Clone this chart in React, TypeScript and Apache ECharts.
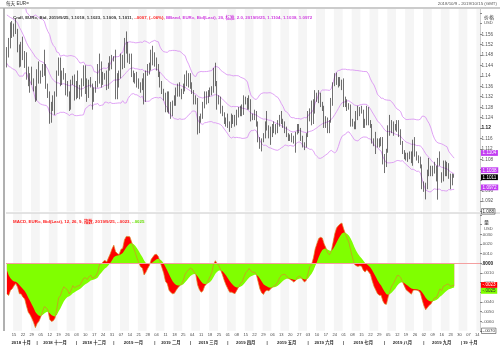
import React, { useEffect, useRef } from 'react';
import * as echarts from 'echarts';

// ---- closes before the visible range (warm-up for BBand / MACD), 2018-08-01 .. 2018-10-08
const preCloses = [
  1.1660, 1.1585, 1.1565, 1.1555, 1.1600, 1.1610, 1.1525, 1.1410, 1.1405, 1.1345, 1.1345, 1.1375,
  1.1435, 1.1475, 1.1570, 1.1595, 1.1540, 1.1620, 1.1680, 1.1700, 1.1705, 1.1670, 1.1600,
  1.1620, 1.1580, 1.1630, 1.1625, 1.1550, 1.1595, 1.1600, 1.1625, 1.1690, 1.1625, 1.1685,
  1.1665, 1.1670, 1.1775, 1.1745, 1.1750, 1.1770, 1.1740, 1.1640, 1.1605,
  1.1575, 1.1545, 1.1540, 1.1515, 1.1525, 1.1490,
];

// ---- daily candles [open, close, low, high]
const oct2018 = [[1.149,1.149,1.1432,1.151],[1.149,1.152,1.147,1.1545],[1.152,1.1595,1.1505,1.1605],[1.1595,1.156,1.1545,1.161],[1.156,1.158,1.155,1.16],[1.158,1.1575,1.156,1.1621],[1.1575,1.15,1.149,1.158],[1.15,1.145,1.1432,1.152],[1.145,1.151,1.1435,1.153],[1.151,1.1465,1.146,1.155],[1.1465,1.147,1.143,1.1495],[1.147,1.139,1.1385,1.149],[1.139,1.1375,1.136,1.1435],[1.1375,1.14,1.1335,1.141],[1.14,1.137,1.1365,1.1435],[1.137,1.1345,1.134,1.139],[1.1345,1.131,1.13,1.136]];
const nov2018 = [[1.131,1.141,1.1305,1.1425],[1.141,1.1385,1.137,1.1455],[1.1385,1.141,1.137,1.142],[1.141,1.143,1.1395,1.1445],[1.143,1.143,1.14,1.15],[1.143,1.136,1.135,1.1445],[1.136,1.1335,1.1315,1.137],[1.1335,1.123,1.1216,1.134],[1.123,1.129,1.122,1.13],[1.129,1.131,1.1265,1.1325],[1.131,1.133,1.125,1.134],[1.133,1.1415,1.132,1.142],[1.1415,1.1455,1.14,1.147],[1.1455,1.137,1.136,1.147],[1.137,1.141,1.1365,1.142],[1.141,1.14,1.1385,1.143],[1.14,1.1335,1.1325,1.141],[1.1335,1.1335,1.132,1.138],[1.1335,1.129,1.1265,1.134],[1.129,1.137,1.127,1.1385],[1.137,1.1395,1.1365,1.14],[1.1395,1.1315,1.1305,1.1405]];
const dec2018 = [[1.1315,1.135,1.131,1.138],[1.135,1.134,1.1315,1.142],[1.134,1.134,1.131,1.1365],[1.134,1.1375,1.132,1.139],[1.1375,1.138,1.136,1.144],[1.138,1.1355,1.133,1.144],[1.1355,1.132,1.13,1.139],[1.132,1.137,1.1315,1.1385],[1.137,1.1365,1.1355,1.1395],[1.1365,1.1305,1.127,1.137],[1.1305,1.1345,1.13,1.1355],[1.1345,1.136,1.1335,1.138],[1.136,1.138,1.1355,1.1445],[1.138,1.145,1.137,1.1485],[1.145,1.137,1.1355,1.1455],[1.137,1.14,1.1365,1.1415],[1.14,1.1395,1.1385,1.141],[1.1395,1.1355,1.1345,1.142],[1.1355,1.143,1.135,1.145],[1.143,1.144,1.142,1.1475],[1.144,1.1465,1.1425,1.148]];
const jan2019 = [[1.1465,1.1465,1.1455,1.1475],[1.1465,1.1345,1.131,1.15],[1.1345,1.139,1.131,1.141],[1.139,1.1395,1.1355,1.142],[1.1395,1.1475,1.139,1.1485],[1.1475,1.144,1.1425,1.148],[1.144,1.154,1.143,1.1545],[1.154,1.15,1.1485,1.157],[1.15,1.147,1.145,1.153],[1.147,1.147,1.1445,1.1485],[1.147,1.141,1.1395,1.1485],[1.141,1.1395,1.1375,1.142],[1.1395,1.139,1.137,1.141],[1.139,1.1365,1.1355,1.1415],[1.1365,1.1365,1.135,1.139],[1.1365,1.136,1.1335,1.1375],[1.136,1.1385,1.1345,1.139],[1.1385,1.1305,1.129,1.141],[1.1305,1.141,1.13,1.142],[1.141,1.143,1.14,1.1445],[1.143,1.143,1.1405,1.145],[1.143,1.148,1.142,1.15],[1.148,1.145,1.144,1.1515]];
const feb2019 = [[1.145,1.1455,1.1435,1.149],[1.1455,1.1435,1.142,1.147],[1.1435,1.1405,1.1395,1.1445],[1.1405,1.136,1.1355,1.1415],[1.136,1.134,1.133,1.138],[1.134,1.1325,1.1305,1.135],[1.1325,1.1275,1.126,1.1335],[1.1275,1.1325,1.126,1.134],[1.1325,1.126,1.1255,1.134],[1.126,1.1295,1.1235,1.13],[1.1295,1.1295,1.1245,1.1305],[1.1295,1.131,1.1285,1.1325],[1.131,1.134,1.1285,1.1355],[1.134,1.134,1.132,1.137],[1.134,1.1335,1.132,1.1375],[1.1335,1.1335,1.131,1.135],[1.1335,1.136,1.133,1.137],[1.136,1.14,1.134,1.1405],[1.14,1.137,1.136,1.142],[1.137,1.137,1.1355,1.141]];
const mar2019 = [[1.137,1.1365,1.135,1.141],[1.1365,1.134,1.133,1.1375],[1.134,1.131,1.129,1.1345],[1.131,1.1305,1.129,1.1325],[1.1305,1.1195,1.1175,1.1315],[1.1195,1.1235,1.118,1.1245],[1.1235,1.1245,1.122,1.1255],[1.1245,1.1285,1.1235,1.13],[1.1285,1.133,1.1275,1.134],[1.133,1.1305,1.129,1.134],[1.1305,1.1325,1.1295,1.1345],[1.1325,1.134,1.132,1.1355],[1.134,1.135,1.1325,1.136],[1.135,1.1415,1.1335,1.143],[1.1415,1.1375,1.136,1.145],[1.1375,1.13,1.127,1.138],[1.13,1.131,1.129,1.1325],[1.131,1.1265,1.1255,1.132],[1.1265,1.125,1.1245,1.1285],[1.125,1.1225,1.1215,1.126],[1.1225,1.122,1.1205,1.124]];
const apr2019 = [[1.122,1.1215,1.12,1.1255],[1.1215,1.1205,1.1185,1.1225],[1.1205,1.1235,1.12,1.1255],[1.1235,1.122,1.1215,1.125],[1.122,1.1215,1.1205,1.125],[1.1215,1.126,1.121,1.127],[1.126,1.1265,1.124,1.128],[1.1265,1.1275,1.1245,1.1285],[1.1275,1.1255,1.1245,1.129],[1.1255,1.13,1.125,1.1325],[1.13,1.1305,1.129,1.132],[1.1305,1.1285,1.127,1.1315],[1.1285,1.1295,1.127,1.1325],[1.1295,1.1235,1.1225,1.131],[1.1235,1.1245,1.123,1.1255],[1.1245,1.126,1.123,1.127],[1.126,1.122,1.1205,1.1265],[1.122,1.1155,1.1145,1.1225],[1.1155,1.113,1.112,1.1165],[1.113,1.115,1.111,1.116],[1.115,1.1165,1.1145,1.118],[1.1165,1.1215,1.116,1.1225]];
const may2019 = [[1.1215,1.1195,1.119,1.1265],[1.1195,1.117,1.116,1.121],[1.117,1.12,1.1135,1.1205],[1.12,1.1195,1.1165,1.1215],[1.1195,1.1195,1.118,1.1225],[1.1195,1.119,1.1175,1.1215],[1.119,1.1215,1.118,1.123],[1.1215,1.1235,1.1205,1.125],[1.1235,1.1225,1.1215,1.1265],[1.1225,1.1205,1.12,1.1235],[1.1205,1.12,1.118,1.1225],[1.12,1.1175,1.1165,1.1205],[1.1175,1.116,1.115,1.118],[1.116,1.1165,1.115,1.1175],[1.1165,1.116,1.1145,1.118],[1.116,1.115,1.114,1.117],[1.115,1.118,1.1105,1.1185],[1.118,1.1205,1.1175,1.1215],[1.1205,1.119,1.118,1.1215],[1.119,1.116,1.115,1.12],[1.116,1.113,1.1125,1.117],[1.113,1.113,1.1115,1.1145],[1.113,1.117,1.1125,1.118]];
const jun2019 = [[1.117,1.124,1.1165,1.1265],[1.124,1.1255,1.1225,1.1275],[1.1255,1.122,1.121,1.1305],[1.122,1.1275,1.1215,1.131],[1.1275,1.133,1.1255,1.1345],[1.133,1.131,1.13,1.1335],[1.131,1.1325,1.1295,1.1345],[1.1325,1.129,1.128,1.1335],[1.129,1.1275,1.1265,1.13],[1.1275,1.121,1.12,1.1285],[1.121,1.122,1.12,1.1245],[1.122,1.1195,1.118,1.124],[1.1195,1.1225,1.118,1.123],[1.1225,1.129,1.122,1.1315],[1.129,1.137,1.1285,1.1375],[1.137,1.14,1.136,1.141],[1.14,1.139,1.1365,1.1412],[1.139,1.1365,1.1355,1.1395],[1.1365,1.137,1.136,1.1395],[1.137,1.137,1.1345,1.1385]];
const jul2019 = [[1.137,1.129,1.128,1.139],[1.129,1.129,1.128,1.132],[1.129,1.1285,1.1265,1.131],[1.1285,1.128,1.127,1.1295],[1.128,1.1225,1.1205,1.129],[1.1225,1.1215,1.1205,1.1235],[1.1215,1.1205,1.1195,1.1225],[1.1205,1.125,1.1195,1.1265],[1.125,1.1255,1.123,1.1285],[1.1255,1.127,1.1245,1.128],[1.127,1.126,1.1255,1.1285],[1.126,1.121,1.12,1.127],[1.121,1.1225,1.12,1.1235],[1.1225,1.1275,1.121,1.1285],[1.1275,1.122,1.121,1.128],[1.122,1.121,1.12,1.123],[1.121,1.115,1.114,1.1215],[1.115,1.114,1.113,1.116],[1.114,1.1145,1.11,1.1185],[1.1145,1.113,1.1125,1.116],[1.113,1.1145,1.1125,1.116],[1.1145,1.1155,1.113,1.1165],[1.1155,1.1075,1.106,1.1165]];
const aug2019 = [[1.1075,1.109,1.1027,1.11],[1.109,1.111,1.105,1.112],[1.111,1.1205,1.1105,1.121],[1.1205,1.12,1.117,1.125],[1.12,1.12,1.118,1.123],[1.12,1.118,1.117,1.1225],[1.118,1.12,1.119,1.1215],[1.12,1.121,1.1185,1.123],[1.121,1.117,1.1165,1.123],[1.117,1.114,1.1135,1.1195],[1.114,1.1105,1.11,1.115],[1.1105,1.109,1.108,1.1115],[1.109,1.108,1.1075,1.1105],[1.108,1.1095,1.107,1.1105],[1.1095,1.1085,1.108,1.111],[1.1085,1.108,1.1065,1.111],[1.108,1.114,1.1055,1.1155],[1.114,1.11,1.109,1.1165],[1.11,1.109,1.1075,1.111],[1.109,1.108,1.1065,1.1095],[1.108,1.1055,1.1045,1.109],[1.1055,1.0985,1.0965,1.106]];
const sep2019 = [[1.0985,1.097,1.0955,1.0995],[1.097,1.097,1.0926,1.099],[1.097,1.1035,1.0965,1.104],[1.1035,1.1035,1.1015,1.1085],[1.1035,1.1025,1.1015,1.1055],[1.1025,1.1045,1.1015,1.1055],[1.1045,1.1045,1.1025,1.107],[1.1045,1.101,1.0995,1.1055],[1.101,1.106,1.0925,1.1085],[1.106,1.1075,1.1055,1.111],[1.1075,1.1,1.099,1.103],[1.1,1.107,1.0995,1.1075],[1.107,1.103,1.1015,1.1075],[1.103,1.104,1.1015,1.107],[1.104,1.102,1.1005,1.1065],[1.102,1.099,1.0965,1.1025],[1.099,1.1018,1.098,1.1025],[1.1018,1.1011,1.1009,1.1023]];

// ---- last values shown in the legends / axis tags
const lastClose = 1.1011;
const bbLast = [1.1104, 1.1038, 1.0972];
const macdLast = -0.0023;
const signalLast = -0.0025;

// ---- axis texts
const monthLabels = [
  '2018 十月', '2018 十一月', '2018 十二月', '2019 一月', '2019 二月', '2019 三月', '2019 四月',
  '2019 五月', '2019 六月', '2019 七月', '2019 八月', '2019 九月', '19 十月',
];
// axis ticks hidden under the value tags
const priceTicksUnderTags = [1.104, 1.1];
const macdTicksUnderTags = [-0.003];
const rangeStart = [2018, 9, 9];
const rangeEnd = [2019, 9, 15];

const FONT = "'Liberation Sans', 'Noto Sans CJK SC', sans-serif";

const fmtMacd = (v: number) => {
  const a = Math.abs(v).toFixed(4).slice(1);
  return (v < -1e-9 ? '-' : '') + a;
};
const near = (list: number[], v: number) => list.some((x) => Math.abs(x - v) < 1e-7);

function buildOption() {
  const candles = [
    ...oct2018, ...nov2018, ...dec2018, ...jan2019, ...feb2019, ...mar2019,
    ...apr2019, ...may2019, ...jun2019, ...jul2019, ...aug2019, ...sep2019,
  ];
  const days: Date[] = [];
  for (let t = Date.UTC(rangeStart[0], rangeStart[1], rangeStart[2]); t <= Date.UTC(rangeEnd[0], rangeEnd[1], rangeEnd[2]); t += 86400000) {
    const d = new Date(t);
    const wd = d.getUTCDay();
    if (wd !== 0 && wd !== 6) days.push(d);
  }
  const cats = days.map((d) => d.toISOString().slice(0, 10));
  const isMonday = days.map((d) => d.getUTCDay() === 1);
  const monthStart: number[] = [];
  days.forEach((d, i) => {
    if (i === 0 || d.getUTCMonth() !== days[i - 1].getUTCMonth()) monthStart.push(i);
  });
  const monthMid: Record<number, string> = {};
  const monthSep: Record<number, boolean> = {};
  monthStart.forEach((s, k) => {
    const e = k + 1 < monthStart.length ? monthStart[k + 1] - 1 : days.length - 1;
    monthMid[Math.floor((s + e) / 2)] = monthLabels[k];
    if (k > 0) monthSep[s] = true;
  });

  // indicators (BBand 20, 2.0; MACD 12, 26, 9 exponential)
  const closes = [...preCloses, ...candles.map((c) => c[1])];
  const off = preCloses.length;
  const ema = (arr: number[], n: number) => {
    const k = 2 / (n + 1);
    const out: number[] = [];
    let e = arr[0];
    arr.forEach((v, i) => {
      e = i === 0 ? v : v * k + e * (1 - k);
      out.push(e);
    });
    return out;
  };
  const e12 = ema(closes, 12);
  const e26 = ema(closes, 26);
  const macdAll = e12.map((v, i) => v - e26[i]);
  const sigAll = ema(macdAll, 9);
  const macd = macdAll.slice(off);
  const sig = sigAll.slice(off);
  const up: number[] = [], mid: number[] = [], lo: number[] = [];
  candles.forEach((_, i) => {
    const w = closes.slice(off + i - 19, off + i + 1);
    const m = w.reduce((a, b) => a + b, 0) / w.length;
    const sd = Math.sqrt(w.reduce((a, b) => a + (b - m) * (b - m), 0) / w.length);
    up.push(m + 2 * sd);
    mid.push(m);
    lo.push(m - 2 * sd);
  });

  const stripe = {
    show: true,
    interval: (i: number) => isMonday[i],
    areaStyle: { color: ['#ffffff', '#f5f5f5'] },
  };
  const bbLine = (data: number[]) => ({
    type: 'line', xAxisIndex: 0, yAxisIndex: 0, data, symbol: 'none', z: 3,
    lineStyle: { color: '#d88cf2', width: 0.8 },
  });

  return {
    animation: false,
    textStyle: { fontFamily: FONT },
    title: [
      {
        left: 8, top: 10,
        text:
          '{a|Cndl, EUR=, Bid, 2019/9/25, 1.1018, 1.1023, 1.1009, 1.1011, }{r|-.0007, (-.06%), }' +
          '{m|BBand, EUR=, Bid(Last), 20, 标准, 2.0, 2019/9/25, 1.1104, 1.1038, 1.0972}',
        textStyle: {
          rich: {
            a: { color: '#333', fontSize: 4.4, fontFamily: FONT },
            r: { color: '#ff2020', fontSize: 4.4, fontFamily: FONT },
            m: { color: '#d040e0', fontSize: 4.4, fontFamily: FONT },
          },
        },
      },
      {
        left: 8, top: 214.5,
        text: '{r|MACD, EUR=, Bid(Last), 12, 26, 9, 指数, 2019/9/25, -.0023, }{g|-.0025}',
        textStyle: {
          rich: {
            r: { color: '#ff2020', fontSize: 4.4, fontFamily: FONT },
            g: { color: '#66dd00', fontSize: 4.4, fontFamily: FONT },
          },
        },
      },
    ],
    grid: [
      { left: 6, right: 20, top: 9, height: 202.4 },
      { left: 6, right: 20, top: 213.5, height: 117.3 },
    ],
    xAxis: [
      {
        type: 'category', gridIndex: 0, data: cats,
        axisLine: { show: false }, axisTick: { show: false }, axisLabel: { show: false },
        splitArea: stripe,
      },
      {
        type: 'category', gridIndex: 1, data: cats,
        axisLine: { show: false }, axisTick: { show: false },
        axisLabel: {
          interval: (i: number) => isMonday[i],
          formatter: (v: string) => v.slice(8, 10),
          fontSize: 4, color: '#444', margin: 2, fontFamily: FONT,
        },
        splitArea: stripe,
      },
      {
        type: 'category', gridIndex: 1, data: cats, position: 'bottom', offset: 8,
        axisLine: { show: false }, axisTick: { show: false },
        axisLabel: {
          interval: (i: number) => monthMid[i] !== undefined || monthSep[i] === true,
          formatter: (_v: string, i: number) => (monthMid[i] !== undefined ? monthMid[i] : '|'),
          fontSize: 4.3, fontWeight: 'bold', color: '#222', margin: 2, fontFamily: FONT,
        },
      },
    ],
    yAxis: [
      {
        type: 'value', gridIndex: 0, position: 'right', min: 1.088, max: 1.1656, interval: 0.004,
        splitLine: { show: false },
        axisLine: { show: true, lineStyle: { color: '#cfcfcf' } },
        axisTick: { show: true, length: 2, lineStyle: { color: '#888' } },
        axisLabel: {
          showMaxLabel: false, margin: 1.5, fontSize: 4.6, color: '#555', fontFamily: FONT,
          formatter: (v: number) => {
            if (v > 1.158 || near(priceTicksUnderTags, v)) return '';
            const s = String(Number(v.toFixed(3)));
            if (Math.abs(v - 1.12) < 1e-6) return '{b|' + s + '}';
            if (Math.abs(v - 1.088) < 1e-6) return '{box|' + s + '}';
            return s;
          },
          rich: {
            b: { fontWeight: 'bold', color: '#111', fontSize: 4.8, fontFamily: FONT },
            box: { borderColor: '#444', borderWidth: 0.6, padding: [0.5, 1], color: '#333', fontSize: 4.6, fontFamily: FONT },
          },
        },
      },
      {
        type: 'value', gridIndex: 1, position: 'right', min: -0.007, max: 0.00516, interval: 0.001,
        splitLine: { show: false },
        axisLine: { show: true, lineStyle: { color: '#cfcfcf' } },
        axisTick: { show: true, length: 2, lineStyle: { color: '#888' } },
        axisLabel: {
          showMaxLabel: false, margin: 1.5, fontSize: 4.4, color: '#555', fontFamily: FONT,
          formatter: (v: number) => {
            if (v > 0.0035 || near(macdTicksUnderTags, v)) return '';
            if (Math.abs(v) < 1e-9) return '{b|.0000}';
            if (Math.abs(v + 0.007) < 1e-9) return '{box|' + fmtMacd(v) + '}';
            return fmtMacd(v);
          },
          rich: {
            b: { fontWeight: 'bold', color: '#111', fontSize: 4.6, fontFamily: FONT },
            box: { borderColor: '#444', borderWidth: 0.6, padding: [0.5, 1], color: '#333', fontSize: 4.4, fontFamily: FONT },
          },
        },
      },
    ],
    series: [
      {
        type: 'candlestick', xAxisIndex: 0, yAxisIndex: 0, data: candles, barWidth: 1.3, z: 4,
        itemStyle: { color: '#7a7a7a', color0: '#111111', borderColor: '#111111', borderColor0: '#111111', borderWidth: 0.6 },
      },
      bbLine(up),
      bbLine(mid),
      bbLine(lo),
      {
        type: 'line', xAxisIndex: 1, yAxisIndex: 1, data: macd, symbol: 'none', z: 2,
        lineStyle: { width: 0 }, areaStyle: { color: '#ff0000', opacity: 1 },
      },
      {
        type: 'line', xAxisIndex: 1, yAxisIndex: 1, data: sig, symbol: 'none', z: 3,
        lineStyle: { width: 0 }, areaStyle: { color: '#80ff00', opacity: 1 },
        markLine: {
          silent: true, symbol: ['none', 'none'],
          lineStyle: { color: '#f4a0a0', width: 1, type: 'solid' },
          label: { show: false },
          data: [{ yAxis: 0 }],
        },
      },
      {
        type: 'line', xAxisIndex: 1, yAxisIndex: 1, data: macd, symbol: 'none', z: 4,
        lineStyle: { color: '#d88a2a', width: 0.7 },
      },
    ],
  };
}

function decorations(chart: echarts.ECharts) {
  const py = (axis: number, v: number) => chart.convertToPixel({ yAxisIndex: axis } as any, v) as unknown as number;
  const tag = (axis: number, v: number, text: string, bg: string, color: string, dy = 0) => ({
    type: 'text', x: 481, y: py(axis, v) + dy, z: 100,
    style: {
      text, fill: color, backgroundColor: bg, padding: [0.8, 1.6, 0.4, 1.6],
      fontSize: 4.6, fontFamily: FONT, verticalAlign: 'middle', align: 'left',
    },
  });
  return [
    { type: 'rect', shape: { x: 0, y: 0, width: 500, height: 352 }, style: { fill: '#fff' }, z: -10, silent: true },
    { type: 'line', shape: { x1: 0, y1: 8, x2: 500, y2: 8 }, style: { stroke: '#999', lineWidth: 1 } },
    { type: 'line', shape: { x1: 6, y1: 213, x2: 500, y2: 213 }, style: { stroke: '#c8c8c8', lineWidth: 1 } },
    { type: 'rect', shape: { x: 3, y: 8, width: 2, height: 323 }, style: { fill: '#b0b0b0' } },
    { type: 'text', left: 6, top: 1.5, style: { text: '每天 EUR=', fontSize: 4.6, fill: '#333', fontFamily: FONT } },
    { type: 'text', right: 3, top: 1.5, style: { text: '2018/10/9 - 2019/10/15 (GMT)', fontSize: 4.4, fill: '#555', fontFamily: FONT } },
    { type: 'text', left: 484, top: 14, style: { text: '价格', fontSize: 5, fill: '#333', fontFamily: FONT } },
    { type: 'text', left: 484, top: 20.5, style: { text: 'USD', fontSize: 4.2, fill: '#555', fontFamily: FONT } },
    { type: 'text', left: 484, top: 219.5, style: { text: '量', fontSize: 5, fill: '#333', fontFamily: FONT } },
    { type: 'text', left: 484, top: 226, style: { text: 'USD', fontSize: 4.2, fill: '#555', fontFamily: FONT } },
    tag(0, bbLast[0], bbLast[0].toFixed(4), '#c23cf2', '#fff'),
    tag(0, bbLast[1], bbLast[1].toFixed(4), '#c23cf2', '#fff'),
    tag(0, lastClose, lastClose.toFixed(4), '#000', '#fff'),
    tag(0, bbLast[2], bbLast[2].toFixed(4), '#c23cf2', '#fff'),
    tag(1, macdLast, fmtMacd(macdLast), '#ff0000', '#fff', -0.5),
    tag(1, signalLast, fmtMacd(signalLast), '#80ff00', '#333', 3.5),
  ];
}

export default function App() {
  const ref = useRef<HTMLDivElement>(null);
  useEffect(() => {
    const chart = echarts.init(ref.current as HTMLDivElement, null, { renderer: 'svg' });
    chart.setOption(buildOption() as any);
    chart.setOption({ graphic: decorations(chart) } as any);
    return () => chart.dispose();
  }, []);
  return <div ref={ref} style={{ width: 500, height: 352, position: 'fixed', left: 0, top: 0 }} />;
}
